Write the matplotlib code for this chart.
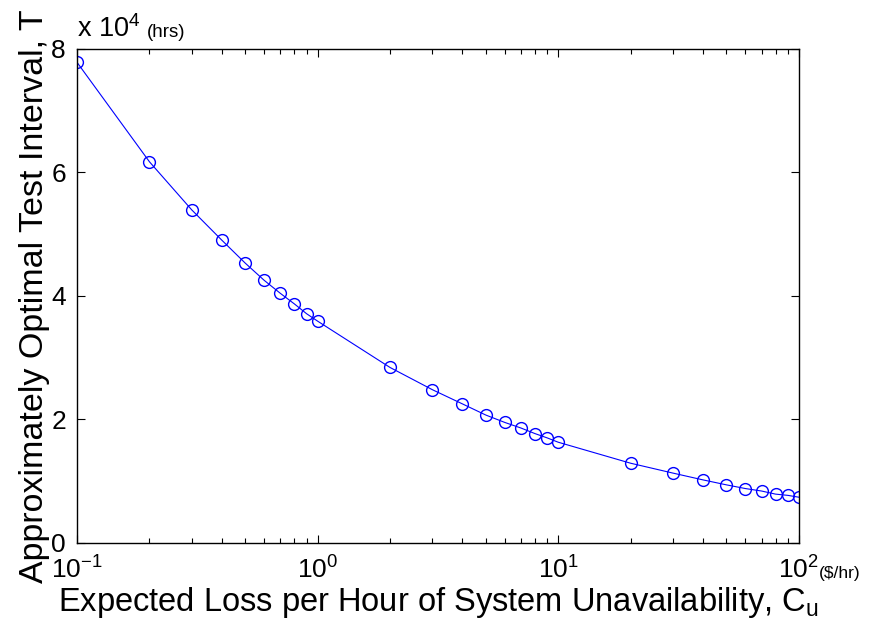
import numpy as np
import matplotlib
matplotlib.use("Agg")
import matplotlib.pyplot as plt

plt.rcParams["font.family"] = ["Liberation Sans", "DejaVu Sans"]
plt.rcParams["mathtext.fontset"] = "custom"
plt.rcParams["mathtext.rm"] = "Liberation Sans"
plt.rcParams["mathtext.it"] = "Liberation Sans"

# expected loss per hour of unavailability ($/hr)
cu = [0.1, 0.2, 0.3, 0.4, 0.5, 0.6, 0.7, 0.8, 0.9, 1,
      2, 3, 4, 5, 6, 7, 8, 9, 10,
      20, 30, 40, 50, 60, 70, 80, 90, 100]
# approximately optimal test interval (x 10^4 hrs)
t_opt = [7.78, 6.17, 5.39, 4.90, 4.53, 4.25, 4.04, 3.87, 3.71, 3.59,
         2.84, 2.48, 2.25, 2.07, 1.95, 1.86, 1.77, 1.70, 1.63,
         1.29, 1.13, 1.02, 0.94, 0.88, 0.84, 0.79, 0.77, 0.74]

xticks = [0.1, 1, 10, 100]
xticklabels = [r"$\mathregular{10^{-1}}$", r"$\mathregular{10^{0}}$",
               r"$\mathregular{10^{1}}$", r"$\mathregular{10^{2}}$"]
yticks = [0, 2, 4, 6, 8]

fig = plt.figure(figsize=(8.75, 6.41), dpi=100)
ax = fig.add_axes([0.088, 0.153, 0.825, 0.771])

ax.semilogx(cu, t_opt, "-o", color="#0000ff", lw=0.8, ms=8.5,
            mfc="none", mec="#0000ff", mew=1.0)

ax.set_xlim(0.1, 100)
ax.set_ylim(0, 8)
ax.set_xticks(xticks)
ax.set_xticklabels(xticklabels)
ax.set_yticks(yticks)
ax.tick_params(which="both", direction="in", top=True, right=True,
               labelsize=19, width=0.8)
ax.tick_params(which="major", length=6)
ax.tick_params(axis="x", which="major", pad=10)
ax.tick_params(axis="y", which="major", pad=8)
ax.tick_params(which="minor", length=3.5)
for s in ax.spines.values():
    s.set_linewidth(1.0)

ax.set_xlabel(r"Expected Loss per Hour of System Unavailability, C$_\mathregular{u}$",
              fontsize=23.5, labelpad=1)
ax.set_ylabel("Approximately Optimal Test Interval, T", fontsize=24.5, labelpad=1)

fig.text(0.088, 0.943, r"x $\mathregular{10^{4}}$", fontsize=19.5, ha="left", va="baseline")
fig.text(0.168, 0.943, "(hrs)", fontsize=13.5, ha="left", va="baseline")
fig.text(0.936, 0.099, "($/hr)", fontsize=12.5, ha="left", va="baseline")

fig.savefig("out.png", dpi=100)
